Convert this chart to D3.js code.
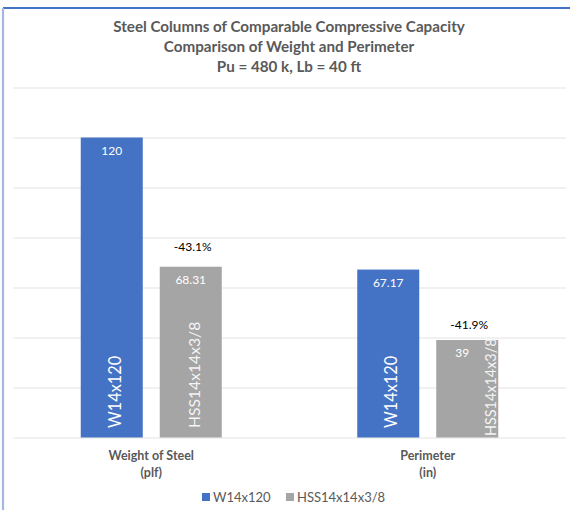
<!DOCTYPE html>
<html>
<head>
<meta charset="utf-8">
<script src="https://cdn.jsdelivr.net/npm/d3@7"></script>
<style>
  html, body { margin: 0; padding: 0; background: #ffffff; }
  svg { display: block; }
  text { font-family: Lato, "Open Sans", sans-serif; }
</style>
</head>
<body>
<svg id="chart" width="570" height="510"></svg>
<script>
// ---- data ----
const titleLines = ["Steel Columns of Comparable Compressive Capacity",
                    "Comparison of Weight and Perimeter",
                    "Pu = 480 k, Lb = 40 ft"];
const categories = ["Weight of Steel (plf)", "Perimeter (in)"];
const categoryLines = [["Weight of Steel", "(plf)"], ["Perimeter", "(in)"]];
const seriesNames = ["W14x120", "HSS14x14x3/8"];
const w14Values = [120, 67.17];
const hssValues = [68.31, 39];
const valueLabels = [["120", "67.17"], ["68.31", "39"]];
const changeLabels = ["-43.1%", "-41.9%"];
const yTicks = [0, 20, 40, 60, 80, 100, 120, 140];

// ---- styles ----
const colors = ["#4472C4", "#A5A5A5"];
const textGray = "#595959";
const gridColor = "#E3E3E3";

const W = 570, H = 510;
const plot = { left: 13, right: 566, top: 87.5, bottom: 437.5 };

const svg = d3.select("#chart");
svg.append("rect").attr("width", W).attr("height", H).attr("fill", "#fff");

// frame lines
svg.append("line").attr("x1", 3).attr("x2", W).attr("y1", 8).attr("y2", 8)
  .attr("stroke", "#4472C4").attr("stroke-width", 2.2);
svg.append("line").attr("x1", 3).attr("x2", 3).attr("y1", 8).attr("y2", H)
  .attr("stroke", "#A3B7DF").attr("stroke-width", 2.2);

// scales
const y = d3.scaleLinear().domain([0, 140]).range([plot.bottom, plot.top]);
const x0 = d3.scaleBand().domain(categories).range([plot.left, plot.right]).padding(0);
const x1 = d3.scaleBand().domain(seriesNames).range([0, x0.bandwidth()])
  .paddingInner(0.215).paddingOuter(0.8575);

// gridlines via axis
const gridAxis = d3.axisLeft(y).tickValues(yTicks).tickSize(-(plot.right - plot.left)).tickFormat("");
const g = svg.append("g").attr("transform", `translate(${plot.left},0)`).call(gridAxis);
g.select(".domain").remove();
g.selectAll(".tick line").attr("stroke", gridColor).attr("stroke-width", 1.2);

// title
svg.append("g").selectAll("text").data(titleLines).join("text")
  .attr("x", 289).attr("y", (d, i) => 31.5 + i * 20)
  .attr("text-anchor", "middle").attr("font-size", 15.2).attr("font-weight", 700)
  .attr("fill", textGray).text(d => d);

// bars
const seriesValues = [w14Values, hssValues];
const barData = [];
categories.forEach((c, ci) => {
  seriesNames.forEach((s, si) => {
    barData.push({ c, ci, s, si, v: seriesValues[si][ci], label: valueLabels[si][ci] });
  });
});

svg.append("g").selectAll("rect").data(barData).join("rect")
  .attr("x", d => x0(d.c) + x1(d.s))
  .attr("y", d => y(d.v))
  .attr("width", x1.bandwidth())
  .attr("height", d => y(0) - y(d.v))
  .attr("fill", d => colors[d.si]);

// value labels (inside end)
const valueDx = [[0, 0], [0, -5]];
svg.append("g").selectAll("text").data(barData).join("text")
  .attr("x", d => x0(d.c) + x1(d.s) + x1.bandwidth() / 2 + valueDx[d.si][d.ci])
  .attr("y", d => y(d.v) + 17)
  .attr("text-anchor", "middle").attr("font-size", 12).attr("fill", "#ffffff")
  .text(d => d.label);

// rotated series labels
const rotDx = [[9.5, 8.7], [9, 28.5]];
const rotStart = [[428, 428], [428, 436]];
const rotSize = [[16.3, 16.3], [15.7, 14.4]];
svg.append("g").selectAll("text").data(barData).join("text")
  .attr("transform", d => {
    const cx = x0(d.c) + x1(d.s) + x1.bandwidth() / 2 + rotDx[d.si][d.ci];
    return `translate(${cx},${rotStart[d.si][d.ci]}) rotate(-90)`;
  })
  .attr("text-anchor", "start").attr("font-size", d => rotSize[d.si][d.ci])
  .attr("fill", d => d.si === 0 ? "#ffffff" : "#F4F4F4")
  .text(d => d.s);

// percent change labels above HSS bars
const pctDy = [-15.5, -11.5];
svg.append("g").selectAll("text").data(categories).join("text")
  .attr("x", (c, i) => x0(c) + x1(seriesNames[1]) + x1.bandwidth() / 2 + 2)
  .attr("y", (c, i) => y(hssValues[i]) + pctDy[i])
  .attr("text-anchor", "middle").attr("font-size", 12).attr("fill", "#000000")
  .text((c, i) => changeLabels[i]);

// category axis labels
const cat = svg.append("g").selectAll("g").data(categories).join("g");
cat.selectAll("text").data((c, i) => categoryLines[i].map(t => ({ t, c }))).join("text")
  .attr("x", d => x0(d.c) + x0.bandwidth() / 2)
  .attr("y", (d, j) => 460 + j * 17)
  .attr("text-anchor", "middle").attr("font-size", 12.5).attr("font-weight", 700)
  .attr("fill", textGray).text(d => d.t);

// legend
const legX = [202, 286];
const leg = svg.append("g").selectAll("g").data(seriesNames).join("g")
  .attr("transform", (d, i) => `translate(${legX[i]},493)`);
leg.append("rect").attr("width", 8).attr("height", 8).attr("fill", (d, i) => colors[i]);
leg.append("text").attr("x", 11).attr("y", 8.5).attr("font-size", 13)
  .attr("fill", textGray).text(d => d);
</script>
</body>
</html>
